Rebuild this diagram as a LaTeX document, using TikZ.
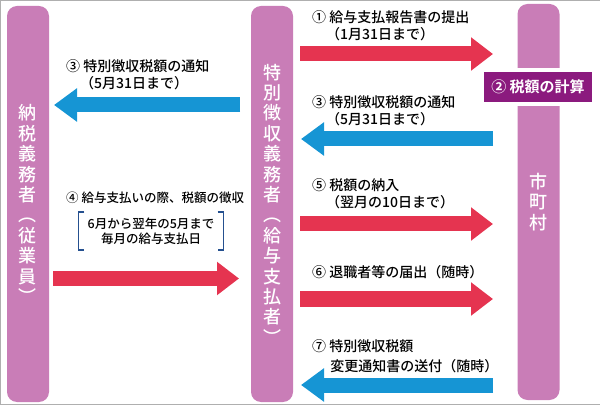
\documentclass[tikz,border=0pt]{standalone}
\usepackage{fontspec}
\setmainfont{Noto Sans CJK JP}[UprightFont=* Medium, BoldFont=* Bold]
\usetikzlibrary{arrows.meta}
\definecolor{barpink}{RGB}{201,125,183}
\definecolor{calcpurple}{RGB}{139,26,126}
\definecolor{arrowred}{RGB}{229,52,80}
\definecolor{arrowblue}{RGB}{22,149,212}
\definecolor{bracketblue}{RGB}{37,80,143}
\definecolor{framegray}{RGB}{175,175,175}
\tikzset{
  bar/.style={rounded corners=10pt, fill=barpink, text=white, minimum width=42pt,
    minimum height=396pt, inner sep=0pt, align=center, font=\fontsize{18}{20.4}\selectfont},
  calcbox/.style={fill=calcpurple, text=white, minimum width=108pt, minimum height=30pt,
    inner sep=0pt, font=\bfseries\fontsize{15}{17}\selectfont,
    preaction={draw=white, line width=8pt}},
  redarrow/.style={draw=arrowred, line width=15pt, -{Triangle[width=32pt,length=22pt]}},
  bluearrow/.style={draw=arrowblue, line width=15pt, -{Triangle[width=32pt,length=23pt]}},
  lbl/.style={anchor=west, align=left, inner sep=0pt, font=\fontsize{14}{17}\selectfont},
  period/.style={minimum width=145pt, minimum height=38pt, inner sep=0pt, align=center,
    font=\fontsize{12.5}{15}\selectfont},
  bracket/.style={draw=bracketblue, line width=1.5pt}
}
\begin{document}
\begin{tikzpicture}[x=1pt, y=-1pt]
	\useasboundingbox (0,0) rectangle (600,406);
	\draw[framegray, line width=1.2pt] (600,0.6) -- (0.6,0.6) -- (0.6,404.4) -- (600,404.4);
	% the three parties
	\node[bar] (payer) at (28,204) {納\\税\\義\\務\\者\\︵\\従\\業\\員\\︶};
	\node[bar] (employer) at (272,204) {特\\別\\徴\\収\\義\\務\\者\\︵\\給\\与\\支\\払\\者\\︶};
	\node[bar] (city) at (538.5,202) {市\\町\\村};
	\node[calcbox] (calc) at (538,87) {② 税額の計算};
	% arrows
	\coordinate (a1s) at (300,54);   \coordinate (a1e) at (493,54);
	\coordinate (a3s) at (493,139);  \coordinate (a3e) at (301,139);
	\coordinate (b3s) at (240,105);  \coordinate (b3e) at (54,105);
	\coordinate (a4s) at (53,278.5); \coordinate (a4e) at (239,278.5);
	\coordinate (a5s) at (300,224);  \coordinate (a5e) at (493,224);
	\coordinate (a6s) at (300,299);  \coordinate (a6e) at (493,299);
	\coordinate (a7s) at (493,385);  \coordinate (a7e) at (301,385);
	\draw[redarrow] (a1s) -- (a1e);
	\draw[bluearrow] (a3s) -- (a3e);
	\draw[bluearrow] (b3s) -- (b3e);
	\draw[redarrow] (a4s) -- (a4e);
	\draw[redarrow] (a5s) -- (a5e);
	\draw[redarrow] (a6s) -- (a6e);
	\draw[bluearrow] (a7s) -- (a7e);
	% labels
	\node[lbl] (l3a) at (66,75) {③ 特別徴収税額の通知\\\hspace*{1em}（5月31日まで）};
	\node[lbl, font=\fontsize{12.5}{15}\selectfont] (l4) at (66,198) {④ 給与支払いの際、税額の徴収};
	\node[period] (period) at (151,231) {6月から翌年の5月まで\\毎月の給与支払日};
	\draw[bracket] ([xshift=6pt]period.north west) -- (period.north west) -- (period.south west) -- ++(6,0);
	\draw[bracket] ([xshift=-6pt]period.north east) -- (period.north east) -- (period.south east) -- ++(-6,0);
	\node[lbl] (l1) at (312,25.5) {① 給与支払報告書の提出\\\hspace*{1em}（1月31日まで）};
	\node[lbl] (l3b) at (312,110.5) {③ 特別徴収税額の通知\\\hspace*{1em}（5月31日まで）};
	\node[lbl] (l5) at (312,194) {⑤ 税額の納入\\\hspace*{1em}（翌月の10日まで）};
	\node[lbl] (l6) at (312,272) {⑥ 退職者等の届出（随時）};
	\node[lbl, font=\fontsize{14}{19.5}\selectfont] (l7) at (312,356) {⑦ 特別徴収税額\\\hspace*{1.3em}変更通知書の送付（随時）};
\end{tikzpicture}
\end{document}
